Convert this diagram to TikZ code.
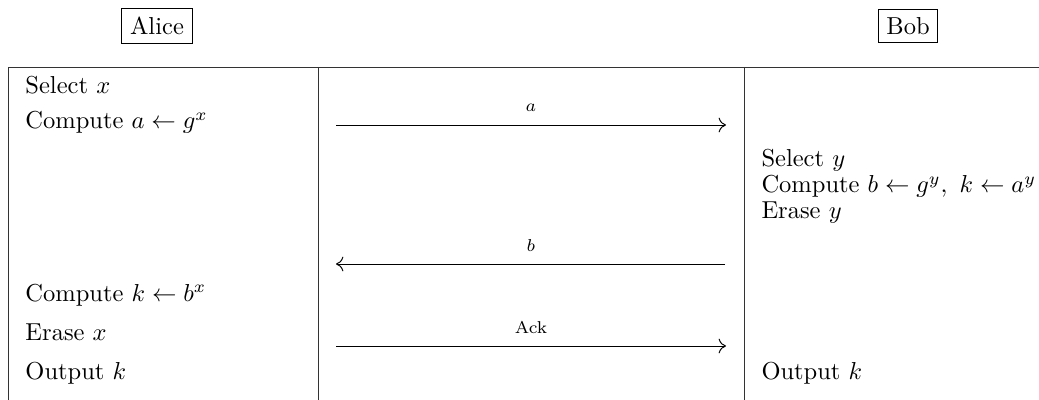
\documentclass[tikz,border=0pt]{standalone}
\usetikzlibrary{arrows.meta}
\begin{document}
\begin{tikzpicture}[x=0.408pt,y=-0.408pt,
  party/.style={draw,thin,inner sep=3.33pt},
  celltext/.style={anchor=base west,inner sep=0pt},
  msglabel/.style={font=\scriptsize,anchor=base,inner sep=0pt},
  msg/.style={thin,-{To[length=3pt,width=6pt]}},
  rule/.style={thin,black!80}]
\useasboundingbox (0,0) rectangle (1039,400);
% parties
\node[party] (alice) at (157,26) {Alice};
\node[party] (bob) at (908,26) {Bob};
% table lines
\draw[rule] (8,400) -- (8,67) -- (1045,67);
\draw[rule] (318,67) -- (318,405);
\draw[rule] (744,67) -- (744,405);
% Alice column
\node[celltext] (a1) at (25,94) {Select $x$};
\node[celltext] (a2) at (25,129) {Compute $a \leftarrow g^x$};
\node[celltext] (a3) at (25,301) {Compute $k \leftarrow b^x$};
\node[celltext] (a4) at (25,340) {Erase $x$};
\node[celltext] (a5) at (25,379) {Output $k$};
% Bob column
\node[celltext] (b1) at (761,167) {Select $y$};
\node[celltext] (b2) at (761,193) {Compute $b \leftarrow g^y,\ k \leftarrow a^y$};
\node[celltext] (b3) at (761,219) {Erase $y$};
\node[celltext] (b4) at (761,379) {Output $k$};
% messages
\coordinate (m1s) at (336,125); \coordinate (m1e) at (726,125);
\coordinate (m2s) at (725,264); \coordinate (m2e) at (336,264);
\coordinate (m3s) at (336,346); \coordinate (m3e) at (726,346);
\draw[msg] (m1s) -- (m1e);
\draw[msg] (m2s) -- (m2e);
\draw[msg] (m3s) -- (m3e);
\node[msglabel] (l1) at (531,112) {$a$};
\node[msglabel] (l2) at (531,251) {$b$};
\node[msglabel] (l3) at (531,333) {Ack};
\end{tikzpicture}
\end{document}
